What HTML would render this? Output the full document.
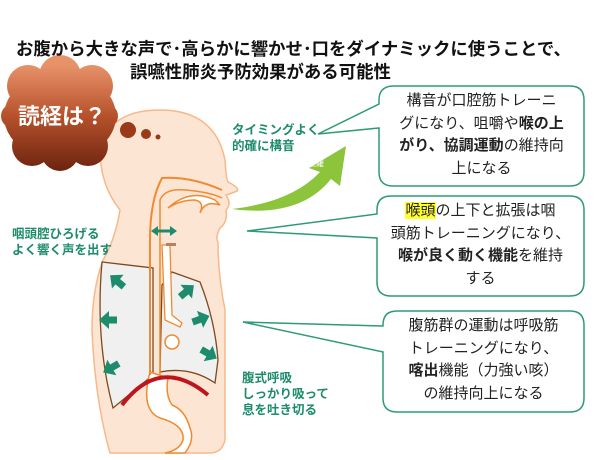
<!DOCTYPE html>
<html><head><meta charset="utf-8"><style>
body{margin:0;width:613px;height:460px;background:#fff;overflow:hidden;font-family:"Liberation Sans","Noto Sans CJK JP",sans-serif;}
.t{position:absolute;font-weight:bold;white-space:nowrap;}
.g{position:absolute;color:#1d8c6c;font-weight:bold;font-size:12.5px;line-height:16px;white-space:nowrap;}
.bx{position:absolute;text-align:center;font-size:15px;line-height:22.5px;color:#222;white-space:nowrap;}
b{font-weight:bold;}
</style></head><body>
<svg width="613" height="460" style="position:absolute;left:0;top:0">
<defs><linearGradient id="cl" gradientUnits="userSpaceOnUse" x1="0" y1="65" x2="0" y2="170"><stop offset="0" stop-color="#e8926a"/><stop offset="0.5" stop-color="#b4502a"/><stop offset="1" stop-color="#6e2410"/></linearGradient>
<path id="ar" d="M-9,-3.5 h8 v-5.5 l10,9 l-10,9 v-5.5 h-8z"/></defs>
<!-- body -->
<path d="M110,453 Q95,400 92,330 Q92,290 103,260 Q115,240 120,210 Q100,185 100,150 Q108,110 160,110 Q215,110 225,160 Q226,178 228,182 Q240,188 237,191 Q230,194 226,195 Q232,204 226,210 Q228,222 220,228 Q215,238 218,242 Q218,275 225,310 L225,440 Q222,453 210,453 Z" fill="#fde5d4" stroke="#f6b98a" stroke-width="1.5"/>
<!-- lungs -->
<path d="M102,262 L153,268 L153,375 L113,408 Q95,340 102,262 Z" fill="#f0f0f0" stroke="#7a4a20" stroke-width="1.3"/>
<path d="M172,272 L200,282 Q215,320 218,360 L215,383 Q190,366 160,372 L162,285 Z" fill="#f0f0f0" stroke="#7a4a20" stroke-width="1.3"/>
<!-- stomach area -->
<path d="M150,372 Q140,410 160,418 Q185,425 183,440 Q180,450 165,453 L185,453 Q195,440 190,428 Q185,410 172,405 Q165,395 168,378 Z" fill="#fff" stroke="#f08a30" stroke-width="1.5"/>
<!-- airway -->
<path d="M150,375 L150,240 Q150,200 162,178 Q190,176 222,190" fill="none" stroke="#f08a30" stroke-width="2"/>
<path d="M160,375 L160,240 L160,200 Q165,188 185,190 Q210,192 222,198" fill="none" stroke="#f08a30" stroke-width="1.5"/>
<path d="M168,208 Q190,188 215,200 L220,205 Q205,200 200,213 Q205,202 195,200 Q180,200 168,208 Z" fill="#fff" stroke="#f08a30" stroke-width="1.5"/>
<path d="M162,245 L165,320 L180,327 L182,323 L172,315 L170,245 Z" fill="#fff" stroke="#f08a30" stroke-width="1.3"/>
<circle cx="172" cy="342" r="7" fill="#fff" stroke="#f08a30" stroke-width="1.5"/>
<rect x="166" y="243" width="10" height="3" fill="#b88060"/>
<!-- diaphragm -->
<path d="M122,405 Q160,355 208,395" fill="none" stroke="#c0141c" stroke-width="4"/>
<!-- green arrows -->
<g fill="#1d8c6c">
<path d="M151,231 l7,-5 v3.5 h12 v-3.5 l7,5 l-7,5 v-3.5 h-12 v3.5 z"/>
<use href="#ar" transform="translate(117,281) rotate(-140)"/>
<use href="#ar" transform="translate(108,320) rotate(180)"/>
<use href="#ar" transform="translate(111,368) rotate(150)"/>
<use href="#ar" transform="translate(187,291) rotate(-40)"/>
<use href="#ar" transform="translate(201,319) rotate(-20)"/>
<use href="#ar" transform="translate(209,354) rotate(30)"/>
</g>
<!-- speaking arrow -->
<path d="M232,209 Q292,202 320,172 L309,168 L346,146 L340,186 L331,179 Q300,218 232,209 Z" fill="#8cc43c"/>
<!-- cloud -->
<g fill="url(#cl)"><ellipse cx="60" cy="116" rx="56" ry="44"/><circle cx="28" cy="86" r="21"/><circle cx="60" cy="76" r="21"/><circle cx="92" cy="86" r="21"/><circle cx="13" cy="116" r="12"/><circle cx="106" cy="116" r="12"/><circle cx="32" cy="146" r="20"/><circle cx="88" cy="146" r="20"/><circle cx="60" cy="152" r="19"/></g>
<circle cx="128" cy="130" r="8" fill="#9a3a18"/><circle cx="146" cy="134" r="5" fill="#9a3a18"/><circle cx="158" cy="137" r="2.5" fill="#9a3a18"/>
<!-- callouts -->
<g fill="#fff" stroke="#2e9a7a" stroke-width="1.5">
<path d="M394,86 H570 Q584,86 584,100 V172 Q584,186 570,186 H393 Q379,186 379,172 V128 L318,134 L379,104 V100 Q379,86 394,86 Z"/>
<path d="M391,196 H570 Q584,196 584,210 V282 Q584,296 570,296 H391 Q377,296 377,282 V238 L247,231 L377,214 V210 Q377,196 391,196 Z"/>
<path d="M397,311 H570 Q584,311 584,325 V398 Q584,412 570,412 H397 Q383,412 383,398 V352 L243,322 L383,326 V325 Q383,311 397,311 Z"/>
</g>
<text x="262" y="198" font-size="8" fill="#fff" font-family="Noto Sans CJK JP">経 心</text>
<text x="283" y="183" font-size="8" fill="#fff" font-family="Noto Sans CJK JP">蜜多</text>
<text x="308" y="166" font-size="8" fill="#fff" font-family="Noto Sans CJK JP">波羅</text>
</svg>
<div class="t" style="left:16px;top:36px;font-size:17.4px;color:#111;">お腹から大きな声で･高らかに響かせ･口をダイナミックに使うことで、</div>
<div class="t" style="left:130px;top:59px;font-size:17.4px;color:#111;">誤嚥性肺炎予防効果がある可能性</div>
<div class="t" style="left:18px;top:99px;font-size:22px;color:#fff;">読経は？</div>
<div class="g" style="left:232px;top:122px;">タイミングよく<br>的確に構音</div>
<div class="g" style="left:12px;top:226px;">咽頭腔ひろげる<br>よく響く声を出す</div>
<div class="g" style="left:242px;top:370px;">腹式呼吸<br>しっかり吸って<br>息を吐き切る</div>
<div class="bx" style="left:379px;width:205px;top:90px;">構音が口腔筋トレーニ<br>グになり、咀嚼や<b>喉の上</b><br><b>がり、協調運動</b>の維持向<br>上になる</div>
<div class="bx" style="left:377px;width:207px;top:200px;"><span style="background:#ffff30">喉頭</span>の上下と拡張は咽<br>頭筋トレーニングになり、<br><b>喉が良く動く機能</b>を維持<br>する</div>
<div class="bx" style="left:383px;width:201px;top:315px;">腹筋群の運動は呼吸筋<br>トレーニングになり、<br><b>喀出</b>機能（力強い咳）<br>の維持向上になる</div>
</body></html>
